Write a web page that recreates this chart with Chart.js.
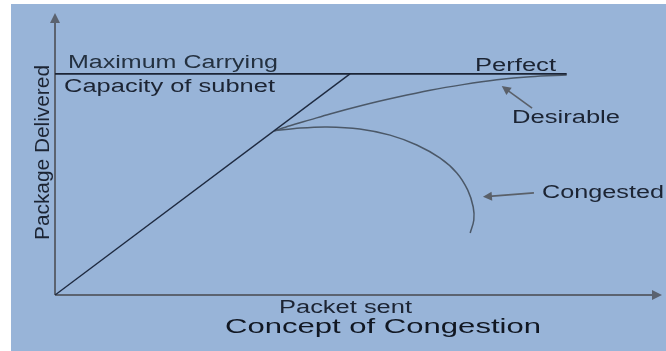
<!DOCTYPE html>
<html>
<head>
<meta charset="utf-8">
<script src="https://cdn.jsdelivr.net/npm/chart.js@4.4.0/dist/chart.umd.min.js"></script>
<style>
    html, body { margin: 0; padding: 0; background: #ffffff; }
    canvas { display: block; }
</style>
</head>
<body>
<canvas id="congestionChart" width="666" height="351"></canvas>
<script>
// curve values, in "packet sent" / "package delivered" units (0..100)
const capacityX = [0, 84.3];
const capacityY = [78.4, 78.4];

const perfectX = [0, 48.6];
const perfectY = [0, 78.4];

const desirableX = [36.1, 38.7, 42.0, 45.3, 50.7, 56.3, 61.8, 67.2, 72.8, 78.3, 84.3];
const desirableY = [58.2, 60.0, 62.1, 64.2, 67.3, 70.1, 72.6, 74.6, 76.3, 77.4, 78.0];

const congestedX = [36.1, 40.4, 44.8, 50.2, 55.2, 59.6, 63.4, 66.2, 68.0, 68.9, 69.0, 68.4];
const congestedY = [58.2, 59.2, 59.6, 58.9, 56.7, 53.2, 48.6, 43.3, 37.2, 31.2, 26.6, 22.0];

// pointer arrows next to the labels: [tailX, tailY, tipX, tipY]
const desirableArrow = [78.6, 66.3, 73.6, 74.1];
const congestedArrow = [78.9, 36.2, 70.5, 34.8];

const toPoints = (xs, ys) => xs.map((x, i) => ({ x: x, y: ys[i] }));

const FONT = '"Liberation Sans", Arial, sans-serif';
const TEXT_COLOR = '#1c2433';
const AXIS_COLOR = '#5b6370';

function drawText(ctx, text, x, y, width, size, color) {
    ctx.save();
    ctx.font = size + 'px ' + FONT;
    ctx.fillStyle = color || TEXT_COLOR;
    ctx.textBaseline = 'alphabetic';
    ctx.textAlign = 'left';
    const w = ctx.measureText(text).width;
    ctx.translate(x, y);
    ctx.scale(width / w, 1);
    ctx.fillText(text, 0, 0);
    ctx.restore();
}

function drawArrowHead(ctx, x, y, angle, len, half, color) {
    ctx.save();
    ctx.translate(x, y);
    ctx.rotate(angle);
    ctx.fillStyle = color;
    ctx.beginPath();
    ctx.moveTo(0, 0);
    ctx.lineTo(-len, -half);
    ctx.lineTo(-len, half);
    ctx.closePath();
    ctx.fill();
    ctx.restore();
}

function drawPointer(ctx, chart, arrow) {
    const xs = chart.scales.x, ys = chart.scales.y;
    const x1 = xs.getPixelForValue(arrow[0]), y1 = ys.getPixelForValue(arrow[1]);
    const x2 = xs.getPixelForValue(arrow[2]), y2 = ys.getPixelForValue(arrow[3]);
    const angle = Math.atan2(y2 - y1, x2 - x1);
    ctx.save();
    ctx.strokeStyle = '#5a6069';
    ctx.lineWidth = 1.6;
    ctx.beginPath();
    ctx.moveTo(x1, y1);
    ctx.lineTo(x2 - Math.cos(angle) * 6, y2 - Math.sin(angle) * 6);
    ctx.stroke();
    ctx.restore();
    drawArrowHead(ctx, x2, y2, angle, 9, 4.5, '#5a6069');
}

const backdrop = {
    id: 'backdrop',
    beforeDraw(chart) {
        const ctx = chart.ctx;
        ctx.save();
        ctx.fillStyle = '#ffffff';
        ctx.fillRect(0, 0, chart.width, chart.height);
        ctx.fillStyle = '#98b4d8';
        ctx.fillRect(11, 4, chart.width - 11, chart.height - 4);
        ctx.restore();
    }
};

const axesAndLabels = {
    id: 'axesAndLabels',
    beforeDatasetsDraw(chart) {
        const ctx = chart.ctx;
        const a = chart.chartArea;
        ctx.save();
        ctx.strokeStyle = AXIS_COLOR;
        ctx.lineWidth = 2;
        ctx.beginPath();
        ctx.moveTo(a.left, a.bottom);
        ctx.lineTo(a.left, a.top + 6);
        ctx.moveTo(a.left, a.bottom);
        ctx.lineTo(a.right - 6, a.bottom);
        ctx.stroke();
        ctx.restore();
        drawArrowHead(ctx, a.left, a.top, -Math.PI / 2, 10, 5, AXIS_COLOR);
        drawArrowHead(ctx, a.right, a.bottom, 0, 10, 5, AXIS_COLOR);
    },
    afterDraw(chart) {
        const ctx = chart.ctx;
        drawPointer(ctx, chart, desirableArrow);
        drawPointer(ctx, chart, congestedArrow);

        drawText(ctx, 'Maximum Carrying', 68, 68, 210, 18, '#243140');
        drawText(ctx, 'Capacity of subnet', 64, 92, 211, 18);
        drawText(ctx, 'Perfect', 475, 71, 81, 18);
        drawText(ctx, 'Desirable', 512, 123, 108, 18);
        drawText(ctx, 'Congested', 542, 198, 122, 18);
        drawText(ctx, 'Packet sent', 279, 313, 133, 18);
        drawText(ctx, 'Concept of Congestion', 225, 333, 316, 21, '#111722');

        // y axis title, reading upward
        ctx.save();
        ctx.font = '18px ' + FONT;
        ctx.fillStyle = TEXT_COLOR;
        const label = 'Package Delivered';
        const w = ctx.measureText(label).width;
        ctx.translate(49, 240);
        ctx.rotate(-Math.PI / 2);
        ctx.scale(175 / w, 1.15);
        ctx.fillText(label, 0, 0);
        ctx.restore();
    }
};

function lineSet(xs, ys, color, width, tension, mode) {
    return {
        data: toPoints(xs, ys),
        showLine: true,
        borderColor: color,
        borderWidth: width,
        pointRadius: 0,
        tension: tension,
        cubicInterpolationMode: mode || 'default',
        fill: false
    };
}

new Chart(document.getElementById('congestionChart'), {
    type: 'scatter',
    data: {
        datasets: [
            lineSet(capacityX, capacityY, '#1b2436', 1.7, 0),
            lineSet(perfectX, perfectY, '#1e2a40', 1.4, 0),
            lineSet(desirableX, desirableY, '#4b5868', 1.5, 0.4, 'monotone'),
            lineSet(congestedX, congestedY, '#4b5868', 1.5, 0.35)
        ]
    },
    options: {
        responsive: false,
        animation: false,
        layout: { padding: { left: 55, right: 4, top: 13, bottom: 56 } },
        plugins: {
            legend: { display: false },
            tooltip: { enabled: false }
        },
        scales: {
            x: { type: 'linear', min: 0, max: 100, display: false },
            y: { type: 'linear', min: 0, max: 100, display: false }
        }
    },
    plugins: [backdrop, axesAndLabels]
});
</script>
</body>
</html>
